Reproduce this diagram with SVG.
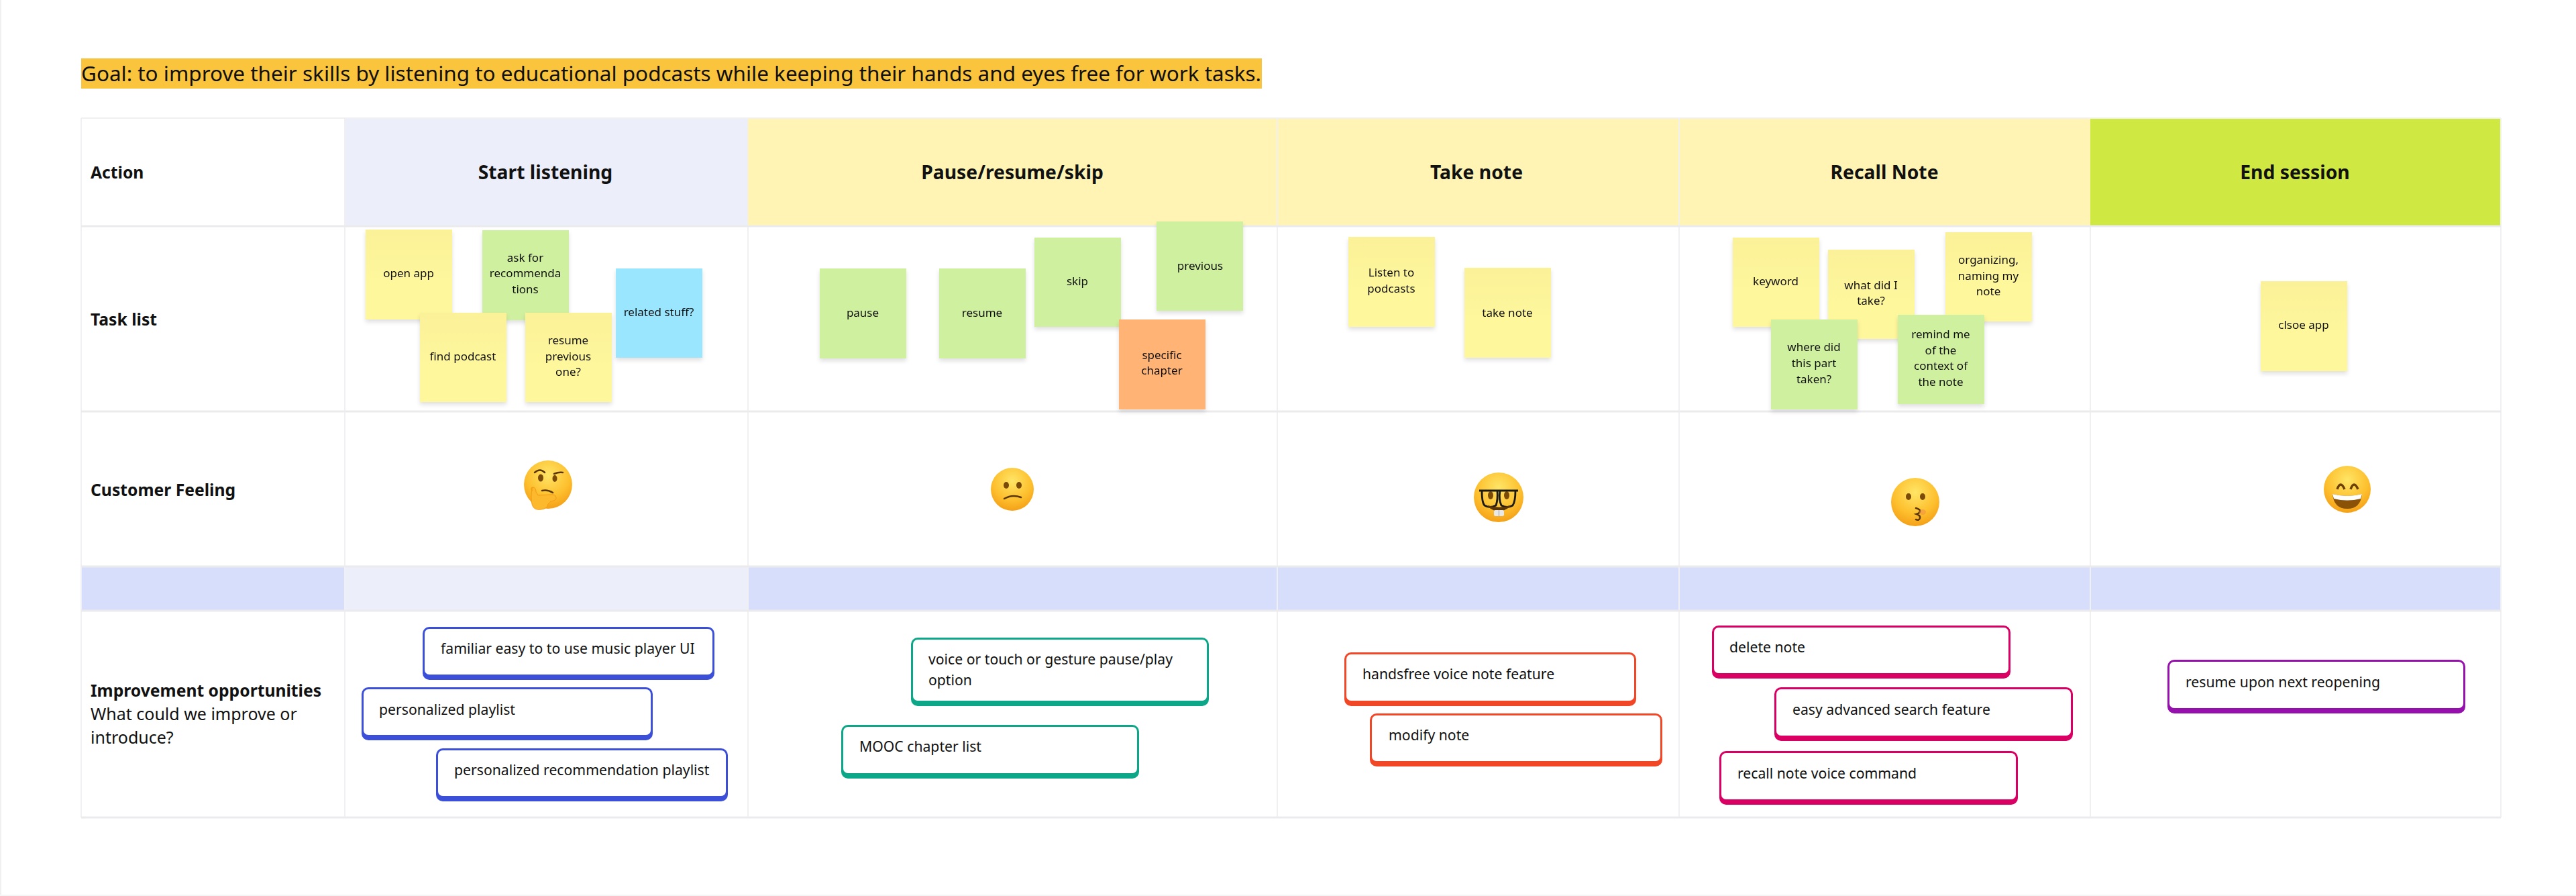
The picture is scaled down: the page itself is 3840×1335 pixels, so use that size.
<svg xmlns="http://www.w3.org/2000/svg" width="3840" height="1335" viewBox="0 0 3840 1335">
<style>
text{font-family:"Noto Sans","Open Sans",sans-serif;fill:#111}
.s{font-size:17px;text-anchor:middle}
.c{font-size:21.200px}
.l{font-size:25px}
.h{font-size:28.300px;font-weight:700;text-anchor:middle}
.r{font-size:24.700px;font-weight:700}
.g{stroke:#f0f0f3;stroke-width:2;fill:none}
.gh{stroke:#ebebee;stroke-width:3;fill:none}
.y{fill:url(#gy)}.gr{fill:#cff09e}.b{fill:#9ae6ff}.o{fill:#ffb375}
.st{filter:url(#sh)}
.eye{fill:#7a4a08}
.m{fill:none;stroke:#5a3505;stroke-width:2.500;stroke-linecap:round}
</style>
<defs>
<linearGradient id="gy" x1="0" y1="0" x2="0" y2="1"><stop offset="0" stop-color="#fbf198"/><stop offset=".6" stop-color="#fef79c"/></linearGradient>
<radialGradient id="face" cx=".5" cy=".3" r=".75"><stop offset="0" stop-color="#ffe566"/><stop offset=".6" stop-color="#fdbf2d"/><stop offset="1" stop-color="#f39a13"/></radialGradient>
<filter id="sh" x="-10%" y="-10%" width="120%" height="120%"><feDropShadow dx="0" dy="4" stdDeviation="3" flood-color="#000" flood-opacity=".12"/></filter>
</defs>
<rect width="3840" height="1335" fill="#fff"/>
<rect x="0" y="0" width="2" height="1335" fill="#f0f0f0"/>
<rect x="0" y="1333" width="3840" height="2" fill="#f5f5f5"/>

<g id="goal"><rect x="121" y="87" width="1760" height="45" fill="#fbc43d"/>
<text x="121" y="121" font-size="31.450">Goal: to improve their skills by listening to educational podcasts while keeping their hands and eyes free for work tasks.</text></g>

<g id="table">
<rect x="514" y="176" width="601" height="161" fill="#eceefa"/>
<rect x="1115" y="176" width="1388" height="161" fill="#fff4b3"/>
<rect x="2503" y="176" width="613" height="161" fill="#fff4b3"/>
<rect x="3116" y="176" width="612" height="161" fill="#cfe942"/>
<rect x="121" y="844" width="3607" height="66" fill="#d7defb"/>
<rect x="514" y="844" width="601" height="66" fill="#eceffa"/>
<path class="g" d="M121 176V1218M514 176V1218M1115 337V1218M1904 176V1218M2503 176V1218M3116 337V1218M3728 176V1218M121 176H3728"/>
<path class="gh" d="M121 337H3728M121 613H3728M121 844H3728M121 910H3728M121 1218H3728"/>
</g>

<g id="row-labels">
<text class="r" x="135" y="266">Action</text>
<text class="r" x="135" y="485">Task list</text>
<text class="r" x="135" y="739">Customer Feeling</text>
<text class="r" x="135" y="1038">Improvement opportunities</text>
<text class="l" x="135" y="1073">What could we improve or</text>
<text class="l" x="135" y="1108">introduce?</text>
</g>

<g id="headers">
<text class="h" x="813" y="267">Start listening</text>
<text class="h" x="1509" y="267">Pause/resume/skip</text>
<text class="h" x="2201" y="267">Take note</text>
<text class="h" x="2809" y="267">Recall Note</text>
<text class="h" x="3421" y="267">End session</text>
</g>

<g id="sticky-open-app" class="st"><rect class="y" x="545" y="342" width="129" height="134"/><text class="s" x="609" y="413">open app</text></g>
<g id="sticky-ask" class="st"><rect class="gr" x="719" y="343" width="129" height="134"/><text class="s" x="783"><tspan x="783" y="390">ask for</tspan><tspan x="783" y="413">recommenda</tspan><tspan x="783" y="437">tions</tspan></text></g>
<g id="sticky-find" class="st"><rect class="y" x="626" y="466" width="129" height="133"/><text class="s" x="690" y="537">find podcast</text></g>
<g id="sticky-resume-prev" class="st"><rect class="y" x="783" y="466" width="129" height="133"/><text class="s"><tspan x="847" y="513">resume</tspan><tspan x="847" y="537">previous</tspan><tspan x="847" y="560">one?</tspan></text></g>
<g id="sticky-related" class="st"><rect class="b" x="918" y="400" width="129" height="133"/><text class="s" x="982" y="471">related stuff?</text></g>

<g id="sticky-pause" class="st"><rect class="gr" x="1222" y="400" width="129" height="134"/><text class="s" x="1286" y="472">pause</text></g>
<g id="sticky-resume" class="st"><rect class="gr" x="1400" y="400" width="129" height="134"/><text class="s" x="1464" y="472">resume</text></g>
<g id="sticky-skip" class="st"><rect class="gr" x="1542" y="354" width="129" height="133"/><text class="s" x="1606" y="425">skip</text></g>
<g id="sticky-previous" class="st"><rect class="gr" x="1724" y="330" width="129" height="133"/><text class="s" x="1789" y="402">previous</text></g>
<g id="sticky-specific" class="st"><rect class="o" x="1668" y="476" width="129" height="134"/><text class="s"><tspan x="1732" y="535">specific</tspan><tspan x="1732" y="558">chapter</tspan></text></g>

<g id="sticky-listen" class="st"><rect class="y" x="2010" y="353" width="129" height="134"/><text class="s"><tspan x="2074" y="412">Listen to</tspan><tspan x="2074" y="436">podcasts</tspan></text></g>
<g id="sticky-take" class="st"><rect class="y" x="2183" y="399" width="129" height="134"/><text class="s" x="2247" y="472">take note</text></g>

<g id="sticky-keyword" class="st"><rect class="y" x="2583" y="354" width="129" height="133"/><text class="s" x="2647" y="425">keyword</text></g>
<g id="sticky-what" class="st"><rect class="y" x="2725" y="372" width="129" height="133"/><text class="s"><tspan x="2789" y="431">what did I</tspan><tspan x="2789" y="454">take?</tspan></text></g>
<g id="sticky-organizing" class="st"><rect class="y" x="2900" y="346" width="129" height="133"/><text class="s"><tspan x="2964" y="393">organizing,</tspan><tspan x="2964" y="417">naming my</tspan><tspan x="2964" y="440">note</tspan></text></g>
<g id="sticky-where" class="st"><rect class="gr" x="2640" y="476" width="129" height="134"/><text class="s"><tspan x="2704" y="523">where did</tspan><tspan x="2704" y="547">this part</tspan><tspan x="2704" y="571">taken?</tspan></text></g>
<g id="sticky-remind" class="st"><rect class="gr" x="2829" y="469" width="129" height="133"/><text class="s"><tspan x="2893" y="504">remind me</tspan><tspan x="2893" y="528">of the</tspan><tspan x="2893" y="551">context of</tspan><tspan x="2893" y="575">the note</tspan></text></g>
<g id="sticky-close" class="st"><rect class="y" x="3370" y="419" width="129" height="134"/><text class="s" x="3434" y="490">clsoe app</text></g>

<g id="emoji-thinking">
<circle cx="817" cy="722" r="36" fill="url(#face)"/>
<path d="M797 704q8-7 15 0" fill="none" stroke="#5a3505" stroke-width="2.500" stroke-linecap="round"/>
<path d="M826 706q7-3 13-2" fill="none" stroke="#5a3505" stroke-width="2.500" stroke-linecap="round"/>
<ellipse class="eye" cx="806" cy="712" rx="4" ry="5.500"/><ellipse class="eye" cx="827" cy="713" rx="3.500" ry="5"/>
<path class="m" d="M808 731q8-2 16 3"/>
<path d="M793 732q-3-6 2-6q4 1 4 7l3 5 18-1q8-1 9 4t-8 6l-4 4q-1 7-10 8-12 2-14-8q-2-8 0-25z" fill="#fdb92d" stroke="#f39a13" stroke-width="1"/>
</g>
<g id="emoji-sad">
<circle cx="1509" cy="729" r="32" fill="url(#face)"/>
<ellipse class="eye" cx="1500" cy="723" rx="4" ry="5"/><ellipse class="eye" cx="1519" cy="723" rx="4" ry="5"/>
<path class="m" d="M1497 743q12-7 25-2"/>
</g>
<g id="emoji-nerd">
<circle cx="2234" cy="741" r="37" fill="url(#face)"/>
<ellipse class="eye" cx="2222" cy="738" rx="4" ry="6"/><ellipse class="eye" cx="2246" cy="738" rx="4" ry="6"/>
<path d="M2205 731h58M2209 731q0 18 4 22q8 5 17 0q3-8 2-22M2236 731q-2 14 2 22q9 5 17 0q4-6 4-22" fill="none" stroke="#1a1a1a" stroke-width="2.800" stroke-linejoin="round"/>
<path d="M2218 754q16 14 33 0q-16 5-33 0z" fill="#5a3505" stroke="#5a3505" stroke-width="1.500"/>
<rect x="2227" y="760" width="15" height="9" rx="2" fill="#e8e8e8"/><path d="M2234.500 760v9" stroke="#999"/>
</g>
<g id="emoji-kiss">
<circle cx="2855" cy="748" r="36" fill="url(#face)"/>
<ellipse class="eye" cx="2845" cy="740" rx="4" ry="5"/><ellipse class="eye" cx="2866" cy="740" rx="4" ry="5"/>
<path class="m" d="M2856 757q7 2 6 5t-5 4q6 2 5 6t-6 2"/>
<ellipse cx="2866" cy="763" rx="5" ry="4" fill="#f08a4b" opacity=".5"/>
</g>
<g id="emoji-grin">
<circle cx="3499" cy="729" r="35" fill="url(#face)"/>
<path d="M3484 729q5-14 11 0M3504 729q5-14 11 0" fill="none" stroke="#6b3f06" stroke-width="3.500"/>
<path d="M3477 736q22 6 44 0q-2 22-22 22t-22-22z" fill="#8a5207"/>
<path d="M3477 736q22 6 44 0l-2 7q-20 5-40 0z" fill="#fff"/>
</g>

<g id="card-familiar"><rect x="630" y="934" width="435" height="79" rx="10" fill="#3b4fd9"/><rect x="633" y="937" width="429" height="68" rx="7" fill="#fff"/><text class="c" x="657" y="974">familiar easy to to use music player UI</text></g>
<g id="card-personalized"><rect x="539" y="1024" width="434" height="79" rx="10" fill="#3b4fd9"/><rect x="542" y="1027" width="428" height="68" rx="7" fill="#fff"/><text class="c" x="565" y="1065">personalized playlist</text></g>
<g id="card-recommendation"><rect x="650" y="1115" width="435" height="79" rx="10" fill="#3b4fd9"/><rect x="653" y="1118" width="429" height="68" rx="7" fill="#fff"/><text class="c" x="677" y="1155">personalized recommendation playlist</text></g>
<g id="card-voice"><rect x="1358" y="950" width="444" height="102" rx="10" fill="#0ca789"/><rect x="1361" y="953" width="438" height="91" rx="7" fill="#fff"/><text class="c"><tspan x="1384" y="990">voice or touch or gesture pause/play</tspan><tspan x="1384" y="1021">option</tspan></text></g>
<g id="card-mooc"><rect x="1254" y="1080" width="444" height="80" rx="10" fill="#0ca789"/><rect x="1257" y="1083" width="438" height="69" rx="7" fill="#fff"/><text class="c" x="1281" y="1120">MOOC chapter list</text></g>
<g id="card-handsfree"><rect x="2004" y="972" width="435" height="80" rx="10" fill="#f24726"/><rect x="2007" y="975" width="429" height="69" rx="7" fill="#fff"/><text class="c" x="2031" y="1012">handsfree voice note feature</text></g>
<g id="card-modify"><rect x="2042" y="1063" width="436" height="79" rx="10" fill="#f24726"/><rect x="2045" y="1066" width="430" height="68" rx="7" fill="#fff"/><text class="c" x="2070" y="1103">modify note</text></g>
<g id="card-delete"><rect x="2552" y="932" width="445" height="79" rx="10" fill="#da0063"/><rect x="2555" y="935" width="439" height="68" rx="7" fill="#fff"/><text class="c" x="2578" y="972">delete note</text></g>
<g id="card-easy"><rect x="2645" y="1024" width="445" height="80" rx="10" fill="#da0063"/><rect x="2648" y="1027" width="439" height="69" rx="7" fill="#fff"/><text class="c" x="2672" y="1065">easy advanced search feature</text></g>
<g id="card-recall"><rect x="2563" y="1119" width="445" height="80" rx="10" fill="#da0063"/><rect x="2566" y="1122" width="439" height="69" rx="7" fill="#fff"/><text class="c" x="2590" y="1160">recall note voice command</text></g>
<g id="card-reopen"><rect x="3231" y="983" width="444" height="80" rx="10" fill="#9510ac"/><rect x="3234" y="986" width="438" height="69" rx="7" fill="#fff"/><text class="c" x="3258" y="1024">resume upon next reopening</text></g>
</svg>
